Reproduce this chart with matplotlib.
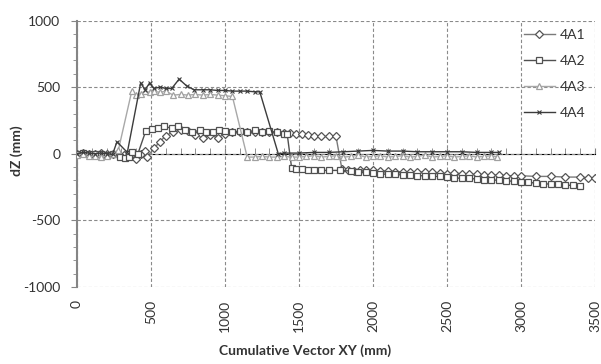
import matplotlib
matplotlib.use('Agg')
import matplotlib.pyplot as plt
from matplotlib.ticker import MultipleLocator, NullFormatter

plt.rcParams['font.family'] = ['Lato', 'DejaVu Sans']
plt.rcParams['axes.unicode_minus'] = False

# 4A1 - diamonds
x_4a1 = [0, 40, 80, 120, 160, 200, 240, 280, 320, 360, 400, 430, 460, 475, 520, 560, 600,
         650, 700, 750, 800, 850, 900, 950, 1000, 1050, 1100, 1150, 1200, 1250, 1300, 1350,
         1400, 1440, 1480, 1520, 1560, 1600, 1650, 1700, 1750, 1790, 1830, 1870, 1910, 1950,
         2000, 2050, 2100, 2150, 2200, 2250, 2300, 2350, 2400, 2450, 2500, 2550, 2600, 2650,
         2700, 2750, 2800, 2850, 2900, 2950, 3000, 3100, 3200, 3300, 3400, 3450, 3500]
y_4a1 = [0, 5, -5, 0, 5, 0, -5, 0, -10, -20, -37, -5, 22, -22, 40, 90, 135,
         165, 175, 170, 140, 120, 140, 120, 150, 160, 165, 160, 165, 160, 165, 160,
         155, 155, 150, 150, 140, 135, 130, 130, 130, -115, -120, -130, -125, -120,
         -125, -130, -130, -135, -135, -140, -135, -140, -140, -145, -150, -145, -150, -155,
         -155, -160, -160, -160, -165, -165, -165, -170, -170, -175, -175, -180, -180]

# 4A2 - squares
x_4a2 = [0, 40, 80, 120, 160, 200, 240, 290, 325, 350, 370, 410, 465, 505, 545, 590, 645,
         685, 730, 780, 830, 870, 920, 960, 1000, 1050, 1100, 1150, 1200, 1250, 1300, 1350,
         1400, 1420, 1450, 1480, 1520, 1560, 1600, 1650, 1700, 1780, 1850, 1900, 1950, 2000,
         2050, 2100, 2150, 2200, 2250, 2300, 2350, 2400, 2450, 2500, 2550, 2600, 2650, 2700,
         2750, 2800, 2850, 2900, 2950, 3000, 3050, 3100, 3150, 3200, 3250, 3300, 3350, 3400]
y_4a2 = [0, 5, -5, 0, -5, -10, -5, -22, -30, -25, 15, -5, 172, 187, 195, 205, 190,
         205, 175, 165, 175, 160, 165, 175, 170, 165, 170, 165, 175, 165, 170, 160,
         150, 150, -105, -115, -115, -120, -120, -125, -125, -125, -130, -140, -135, -145,
         -150, -155, -155, -160, -160, -165, -165, -170, -170, -175, -180, -185, -185, -190,
         -195, -195, -200, -205, -205, -210, -215, -220, -225, -228, -230, -235, -238, -240]

# 4A3 - triangles
x_4a3 = [0, 40, 80, 120, 160, 200, 240, 280, 370, 400, 430, 460, 490, 520, 560, 600, 650,
         700, 750, 800, 850, 900, 950, 1000, 1050, 1150, 1200, 1250, 1300, 1350, 1400, 1450,
         1500, 1550, 1600, 1650, 1700, 1750, 1800, 1850, 1900, 1950, 2000, 2050, 2100, 2150,
         2200, 2250, 2300, 2350, 2400, 2450, 2500, 2550, 2600, 2650, 2700, 2750, 2800, 2840]
y_4a3 = [-10, 0, -15, -20, -25, -20, -5, 30, 470, 440, 450, 470, 460, 470, 460, 470, 440,
         445, 440, 445, 440, 445, 440, 435, 430, -25, -25, -20, -25, -25, -20, -25,
         -25, -20, -15, -25, -20, -15, -25, -20, -10, -25, -20, -15, -25, -20,
         -15, -25, -20, -10, -25, -20, -15, -25, -20, -15, -25, -20, -15, -25]

# 4A4 - crosses
x_4a4 = [0, 40, 80, 120, 160, 200, 240, 270, 340, 430, 460, 490, 520, 560, 600, 640, 690,
         740, 790, 850, 900, 950, 1000, 1050, 1100, 1150, 1200, 1235, 1360, 1400, 1500, 1600,
         1700, 1800, 1900, 2000, 2100, 2200, 2300, 2400, 2500, 2600, 2700, 2800, 2850]
y_4a4 = [0, 10, 5, 0, 5, 0, -5, 90, 10, 530, 480, 530, 490, 500, 490, 490, 560,
         510, 480, 480, 480, 475, 475, 470, 470, 470, 465, 465, 0, 5, 5, 10,
         10, 15, 20, 25, 20, 20, 15, 15, 15, 15, 10, 10, 10]

fig = plt.figure(figsize=(6.01, 3.64), dpi=100)
ax = fig.add_axes([77 / 601, 1 - 287 / 364, 518 / 601, 266.5 / 364])

ms = 4.5
ax.plot(x_4a1, y_4a1, color='#7a7a7a', lw=1, marker='D', ms=ms - 0.8, mfc='white',
        mec='#555555', mew=0.9, label='4A1', zorder=3)
ax.plot(x_4a2, y_4a2, color='#505050', lw=1, marker='s', ms=ms, mfc='white',
        mec='#505050', mew=0.9, label='4A2', zorder=3)
ax.plot(x_4a3, y_4a3, color='#a8a8a8', lw=1, marker='^', ms=ms + 0.5, mfc='white',
        mec='#a0a0a0', mew=0.9, label='4A3', zorder=3)
ax.plot(x_4a4, y_4a4, color='#3c3c3c', lw=1, marker='x', ms=3, mec='#3c3c3c',
        mew=0.8, label='4A4', zorder=3)

ax.set_xlim(0, 3500)
ax.set_ylim(-1000, 1000)
ax.xaxis.set_major_locator(MultipleLocator(500))
ax.yaxis.set_major_locator(MultipleLocator(500))
ax.yaxis.set_minor_locator(MultipleLocator(100))

for s in ['top', 'right', 'bottom']:
    ax.spines[s].set_visible(False)
ax.spines['left'].set_color('#858585')
ax.spines['left'].set_linewidth(1.5)

ax.grid(True, which='major', color='#8a8a8a', ls=(0, (3, 2)), lw=0.8)
ax.tick_params(axis='y', which='major', direction='out', length=4, color='#858585',
               labelsize=10, pad=8, labelcolor='#333333')
ax.tick_params(axis='y', which='minor', direction='out', length=3, color='#858585')
ax.tick_params(axis='x', which='both', length=0, labelsize=10, pad=9.5,
               labelrotation=90, labelcolor='#333333')

# horizontal axis crossing at zero
sec = ax.secondary_xaxis(0.5)
sec.spines['bottom'].set_color('#808080')
sec.spines['bottom'].set_linewidth(1.5)
sec.xaxis.set_major_locator(MultipleLocator(500))
sec.xaxis.set_minor_locator(MultipleLocator(100))
sec.xaxis.set_major_formatter(NullFormatter())
sec.xaxis.set_minor_formatter(NullFormatter())
sec.tick_params(which='both', direction='out', length=4, color='#808080')

ax.set_xlabel('Cumulative Vector XY (mm)', fontsize=10, fontweight='bold', color='#333333')
ax.xaxis.set_label_coords(0.44, -0.215)
ax.set_ylabel('dZ (mm)', fontsize=10, fontweight='bold', color='#333333')
ax.yaxis.set_label_coords(-0.105, 0.51)

ax.legend(loc='upper left', bbox_to_anchor=(524 / 601, 1 - 29 / 364),
          bbox_transform=fig.transFigure, frameon=False, fontsize=10,
          handlelength=2.2, handletextpad=0.35, labelspacing=1.0,
          borderpad=0, borderaxespad=0, labelcolor='#333333')

fig.savefig('out.png', dpi=100)
